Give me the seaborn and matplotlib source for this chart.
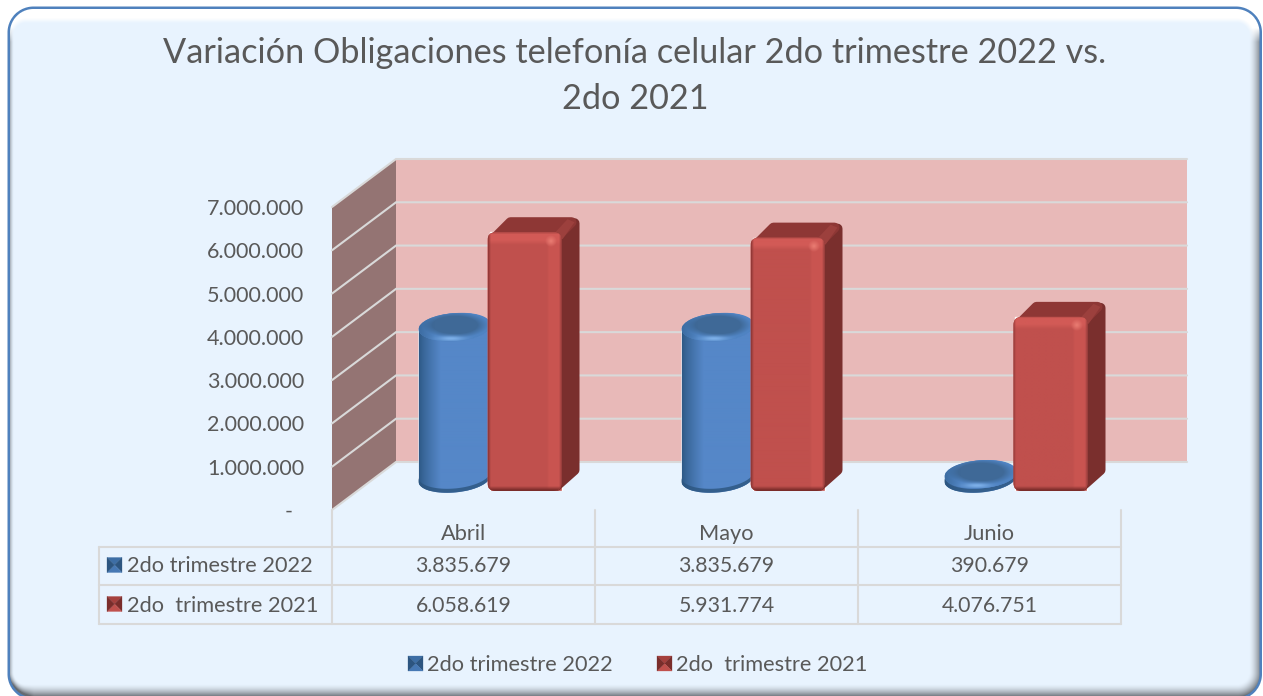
import numpy as np
import pandas as pd
import matplotlib.pyplot as plt
import seaborn as sns
from matplotlib.colors import to_rgb
from matplotlib.patches import Ellipse, FancyBboxPatch, Polygon, Rectangle

W, H = 1263, 696

# data
months = ["Abril", "Mayo", "Junio"]
series_names = ["2do trimestre 2022", "2do  trimestre 2021"]
values_2022 = [3835679, 3835679, 390679]
values_2021 = [6058619, 5931774, 4076751]
axis_ticks = [0, 1000000, 2000000, 3000000, 4000000, 5000000, 6000000, 7000000]
axis_labels = ["-  ", "1.000.000", "2.000.000", "3.000.000", "4.000.000",
               "5.000.000", "6.000.000", "7.000.000"]
title_text = "Variación Obligaciones telefonía celular 2do trimestre 2022 vs.\n2do 2021"

TEXT = "#595959"
LINE = "#d9d9d9"
BLUE = "#4f81bd"
RED = "#c0504d"
FILL = "#e8f3fe"

sns.set_theme(style="white")
plt.rcParams["font.family"] = ["Lato", "DejaVu Sans"]


def fmt(v):
    return f"{v:,}".replace(",", ".")


def px_axes(fig, zorder):
    a = fig.add_axes([0, 0, 1, 1], zorder=zorder)
    a.set_xlim(0, W)
    a.set_ylim(H, 0)
    a.axis("off")
    a.patch.set_alpha(0)
    return a


def rounded_sdf(x, y, x0, y0, x1, y1, r):
    qx = np.abs(x - (x0 + x1) / 2) - (x1 - x0) / 2 + r
    qy = np.abs(y - (y0 + y1) / 2) - (y1 - y0) / 2 + r
    return np.hypot(np.maximum(qx, 0), np.maximum(qy, 0)) + np.minimum(np.maximum(qx, qy), 0) - r


def blend(img, t, col):
    return img * (1 - t[..., None]) + np.array(to_rgb(col)) * t[..., None]


def panel_image():
    """Rounded panel with the white top bevel and the grey shadow edges"""
    x, y = np.meshgrid(np.arange(W) + 0.5, np.arange(H) + 0.5)
    img = np.ones((H, W, 3)) * np.array(to_rgb(FILL))
    inner = rounded_sdf(x, y, 14, 23, 1249, 684, 12)
    width = 6 + 7 * np.clip((x - 14) / 20, 0, 1)
    t = np.clip(inner / width, 0, 1)
    top = np.clip((42 - y) / 14, 0, 1)
    img = blend(img, np.clip(inner / 5, 0, 1) * top, "#ffffff")
    img = blend(img, t ** 1.6 * (1 - top) * 0.95, "#5f646a")
    outer = rounded_sdf(x, y, 7.5, 6.5, 1262, 700, 26)
    img = blend(img, np.clip(outer + 3, 0, 1), BLUE)
    alpha = np.clip(0.5 - outer, 0, 1)[..., None]
    return np.dstack([img, alpha])


def bar_image(w, h):
    """Front face of a red bar, bevelled on every edge"""
    x, y = np.meshgrid(np.arange(w) + 0.5, np.arange(h) + 0.5)
    img = np.ones((h, w, 3)) * np.array(to_rgb(RED))
    img = blend(img, np.clip((x - (w - 15)) / 2, 0, 1) * 0.7, "#cd5652")
    img = blend(img, np.clip((13 - y) / 5, 0, 1), "#d25a56")
    img = blend(img, np.clip((3 - x) / 3, 0, 1), "#8a3533")
    img = blend(img, np.clip((x - (w - 3)) / 3, 0, 1), "#8f3a38")
    img = blend(img, np.clip((2.5 - y) / 2.5, 0, 1) * 0.7, "#9a3f3c")
    img = blend(img, np.clip((y - (h - 5)) / 4, 0, 1), "#7a2c2a")
    img = blend(img, np.clip(1 - np.hypot(x - (w - 11), y - 9) / 6, 0, 1), "#ea7d73")
    return img


def cap_image(w, ry):
    """Top of the cylinder: dark centre, lighter shoulder and a small highlight"""
    h = int(2 * ry)
    x, y = np.meshgrid(np.arange(int(w)) + 0.5 - w / 2, np.arange(h) + 0.5 - ry)
    r = np.hypot(x / (w / 2), (y + 2) / ry)
    img = np.ones((h, int(w), 3)) * np.array(to_rgb("#3f6997"))
    img = blend(img, np.clip((r - 0.62) / 0.3, 0, 1), "#4f83c2")
    glow = np.exp(-((x + 4) / 13) ** 2 - ((y - ry + 2.5) / 2.5) ** 2)
    img = blend(img, np.clip(glow, 0, 1) * 0.9, "#82b4ec")
    left = np.clip((-x / (w / 2) - 0.55) / 0.45, 0, 1) * 0.55
    return blend(img, left, "#2e5a87")


def half_ellipse(cx, w, y, ry, tilt, start, stop):
    a = np.linspace(start, stop, 40)
    return np.c_[cx + w / 2 * np.cos(a), y - ry * np.sin(a) - tilt * np.cos(a)]


def draw_cylinder(a, patch, x0, w, y_top, y_base):
    ry, tilt = 14, 3
    cx = x0 + w / 2
    outline_xy = np.vstack([half_ellipse(cx, w, y_top, ry, tilt, np.pi, 0),
                            half_ellipse(cx, w, y_base, ry, tilt, 0, -np.pi)])
    outline = Polygon(outline_xy, closed=True, fc="none", ec="none", transform=a.transData)
    a.add_patch(outline)
    patch.set_clip_path(Polygon(outline_xy, closed=True, transform=a.transData))
    stops = np.linspace(0, 1, int(w))
    dark, light = np.array(to_rgb("#2e5a87")), np.array(to_rgb("#5587c8"))
    ramp = dark + np.clip(stops / 0.3, 0, 1)[:, None] ** 0.8 * (light - dark)
    im = a.imshow(ramp[None, :, :], extent=(x0, x0 + w, y_base + ry + 3, y_top - ry - 3), aspect="auto",
                  interpolation="bilinear", zorder=3)
    im.set_clip_path(outline)
    # dark crescent along the bottom edge
    crescent = np.vstack([half_ellipse(cx, w, y_base, ry, tilt, 0, -np.pi),
                          half_ellipse(cx, w, y_base - 4, ry, tilt, -np.pi, 0)])
    a.add_patch(Polygon(crescent, closed=True, fc="#2c557f", ec="none", alpha=0.8, zorder=3.1))
    ell = Ellipse((cx, y_top), w, 2 * ry, angle=-4, fc="#4f83c2", ec="none", zorder=3.2)
    a.add_patch(ell)
    cap = a.imshow(cap_image(w, ry), extent=(x0, x0 + w, y_top + ry, y_top - ry), aspect="auto",
                   interpolation="bilinear", zorder=3.3)
    cap.set_clip_path(ell)
    a.set_xlim(0, W)
    a.set_ylim(H, 0)


def draw_box(a, x0, x1, y_top, y_base):
    dx, dy = 18, 15
    r = 5
    a.add_patch(Polygon([(x1 - r, y_top + r + 2), (x1 + dx - r, y_top - dy + r + 1),
                         (x1 + dx - r, y_base - dy - 6), (x1 - r, y_base - r)],
                        closed=True, fc="#7a2f2d", ec="#7a2f2d", lw=r * 1.44, joinstyle="round", zorder=4))
    a.add_patch(Polygon([(x0 + r + 3, y_top + r), (x0 + dx + 5, y_top - dy + r), (x1 + dx - 8, y_top - dy + r),
                         (x1 - r, y_top + r)],
                        closed=True, fc="#8e3735", ec="#8e3735", lw=r * 1.44, joinstyle="round", zorder=4.1))
    a.add_patch(Polygon([(x1 - 8, y_top + 2), (x1 + dx - 12, y_top - dy + 2), (x1 + dx - 5, y_top - dy + 5),
                         (x1 + 1, y_top + 7)],
                        closed=True, fc="#9c403d", ec="none", zorder=4.15))
    w, h = int(round(x1 - x0)), int(round(y_base - y_top))
    box = FancyBboxPatch((x0 + 8, y_top + 8), x1 - x0 - 16, y_base - y_top - 16,
                         boxstyle="round,pad=8", fc=RED, ec="none", zorder=4.2)
    a.add_patch(box)
    im = a.imshow(bar_image(w, h), extent=(x0, x1, y_base, y_top), aspect="auto",
                  interpolation="bilinear", zorder=4.3)
    im.set_clip_path(box)
    a.set_xlim(0, W)
    a.set_ylim(H, 0)


def draw_key(a, x, y, colors):
    s = 15
    cx, cy = x + s / 2, y + s / 2
    corners = [(x, y), (x + s, y), (x + s, y + s), (x, y + s)]
    for i, col in enumerate(colors):
        a.add_patch(Polygon([corners[i], corners[(i + 1) % 4], (cx, cy)], closed=True, fc=col, ec=col, lw=0.2))


def create_chart():
    df = pd.DataFrame({
        "mes": months * 2,
        "serie": [series_names[0]] * 3 + [series_names[1]] * 3,
        "valor": values_2022 + values_2021,
    })

    fig = plt.figure(figsize=(W / 100, H / 100), dpi=100)
    fig.patch.set_facecolor("white")

    bg = px_axes(fig, 0)
    bg.imshow(panel_image(), extent=(0, W, H, 0), aspect="auto", interpolation="nearest")
    bg.set_xlim(0, W)
    bg.set_ylim(H, 0)

    # front plane of the 3d box holds the value axis and the month labels
    front_left, front_right, front_base, front_top = 332, 1121, 510, 207
    depth_x, depth_y = 64, 48
    front = fig.add_axes([front_left / W, 1 - front_base / H, (front_right - front_left) / W,
                          (front_base - front_top) / H], zorder=3)
    front.set_xlim(-0.5, 2.5)
    front.set_ylim(0, 7000000)
    front.patch.set_alpha(0)
    sns.despine(ax=front, left=True, bottom=True)
    front.set_yticks(axis_ticks, axis_labels)
    front.set_xticks(range(len(months)), months)
    front.tick_params(axis="y", length=0, pad=20, labelsize=15.5, labelcolor=TEXT)
    front.tick_params(axis="x", length=0, pad=10, labelsize=15.7, labelcolor=TEXT)
    for lab in front.get_yticklabels():
        lab.set_va("center_baseline")
    front.grid(False)

    # walls
    back_base = front_base - depth_y
    back_top = front_top - depth_y
    bg.add_patch(Rectangle((front_left + depth_x, back_top), front_right - front_left + 2, back_base - back_top,
                           fc="#e8b9b8", ec="none"))
    bg.add_patch(Polygon([(front_left, front_top), (front_left + depth_x, back_top),
                          (front_left + depth_x, back_base), (front_left, front_base)],
                         closed=True, fc="#947473", ec="none"))
    px_per_unit = (front_base - front_top) / 7000000
    for tick in axis_ticks:
        y = front_base - tick * px_per_unit
        bg.plot([front_left, front_left + depth_x, front_right + depth_x + 2], [y, y - depth_y, y - depth_y],
                color=LINE, lw=1.5, solid_joinstyle="miter")

    # bars sit half way into the depth of the box
    bar_left, bar_right, bar_base, bar_top = 358, 1147, 491, 192
    ax = fig.add_axes([bar_left / W, 1 - bar_base / H, (bar_right - bar_left) / W,
                       (bar_base - bar_top) / H], zorder=1)
    sns.barplot(data=df, x="mes", y="valor", hue="serie", order=months, hue_order=series_names,
                palette=[BLUE, RED], saturation=1, width=2 * 72 / 263, gap=0, legend=False, ax=ax)
    ax.set_xlim(-0.5, 2.5)
    ax.set_ylim(0, 7000000)
    ax.axis("off")

    deco = px_axes(fig, 2)

    def to_px(xv, yv):
        xd, yd = ax.transData.transform((xv, yv))
        return xd, H - yd

    for blue, red in zip(ax.containers[0], ax.containers[1]):
        x0, y_top = to_px(blue.get_x(), blue.get_height())
        x1, y_base = to_px(blue.get_x() + blue.get_width(), 0)
        draw_cylinder(deco, blue, x0 + 1, x1 - x0, y_top, 478.5)
        x0, y_top = to_px(red.get_x(), red.get_height())
        x1, y_base = to_px(red.get_x() + red.get_width(), 0)
        draw_box(deco, x0 - 2, x1, y_top, y_base)

    # data table
    for y in [547, 585, 624]:
        bg.plot([99, front_right], [y, y], color=LINE, lw=1.5)
    bg.plot([99, 99], [547, 624], color=LINE, lw=1.5)
    for i in range(len(months) + 1):
        x = front_left + i * (front_right - front_left) / len(months)
        bg.plot([x, x], [front_base, 624], color=LINE, lw=1.5)

    key_colors = [["#3d6ea5", "#2c5580", "#4678b4", "#2c5580"],
                  ["#a5403d", "#7a2d2b", "#c0504d", "#7a2d2b"]]
    rows = [values_2022, values_2021]
    row_y = [566.5, 605.5]
    for r, vals in enumerate(rows):
        draw_key(deco, 107, row_y[r] - 9, key_colors[r])
        deco.text(127, row_y[r], series_names[r], ha="left", va="center", color=TEXT, fontsize=15.7)
        for i, v in enumerate(vals):
            x = front_left + (i + 0.5) * (front_right - front_left) / len(months)
            deco.text(x, row_y[r], fmt(v), ha="center", va="center", color=TEXT, fontsize=15.3)

    # legend
    for key_x, text_x, name, cols in zip([408, 657], [427, 676], series_names, key_colors):
        draw_key(deco, key_x, 656, cols)
        deco.text(text_x, 665, name, ha="left", va="center", color=TEXT, fontsize=15.7)

    deco.text(635, 76, title_text, ha="center", va="center", color=TEXT, fontsize=24.7, linespacing=1.52)

    fig.savefig("out.png", dpi=100)
    plt.close(fig)


if __name__ == "__main__":
    create_chart()
